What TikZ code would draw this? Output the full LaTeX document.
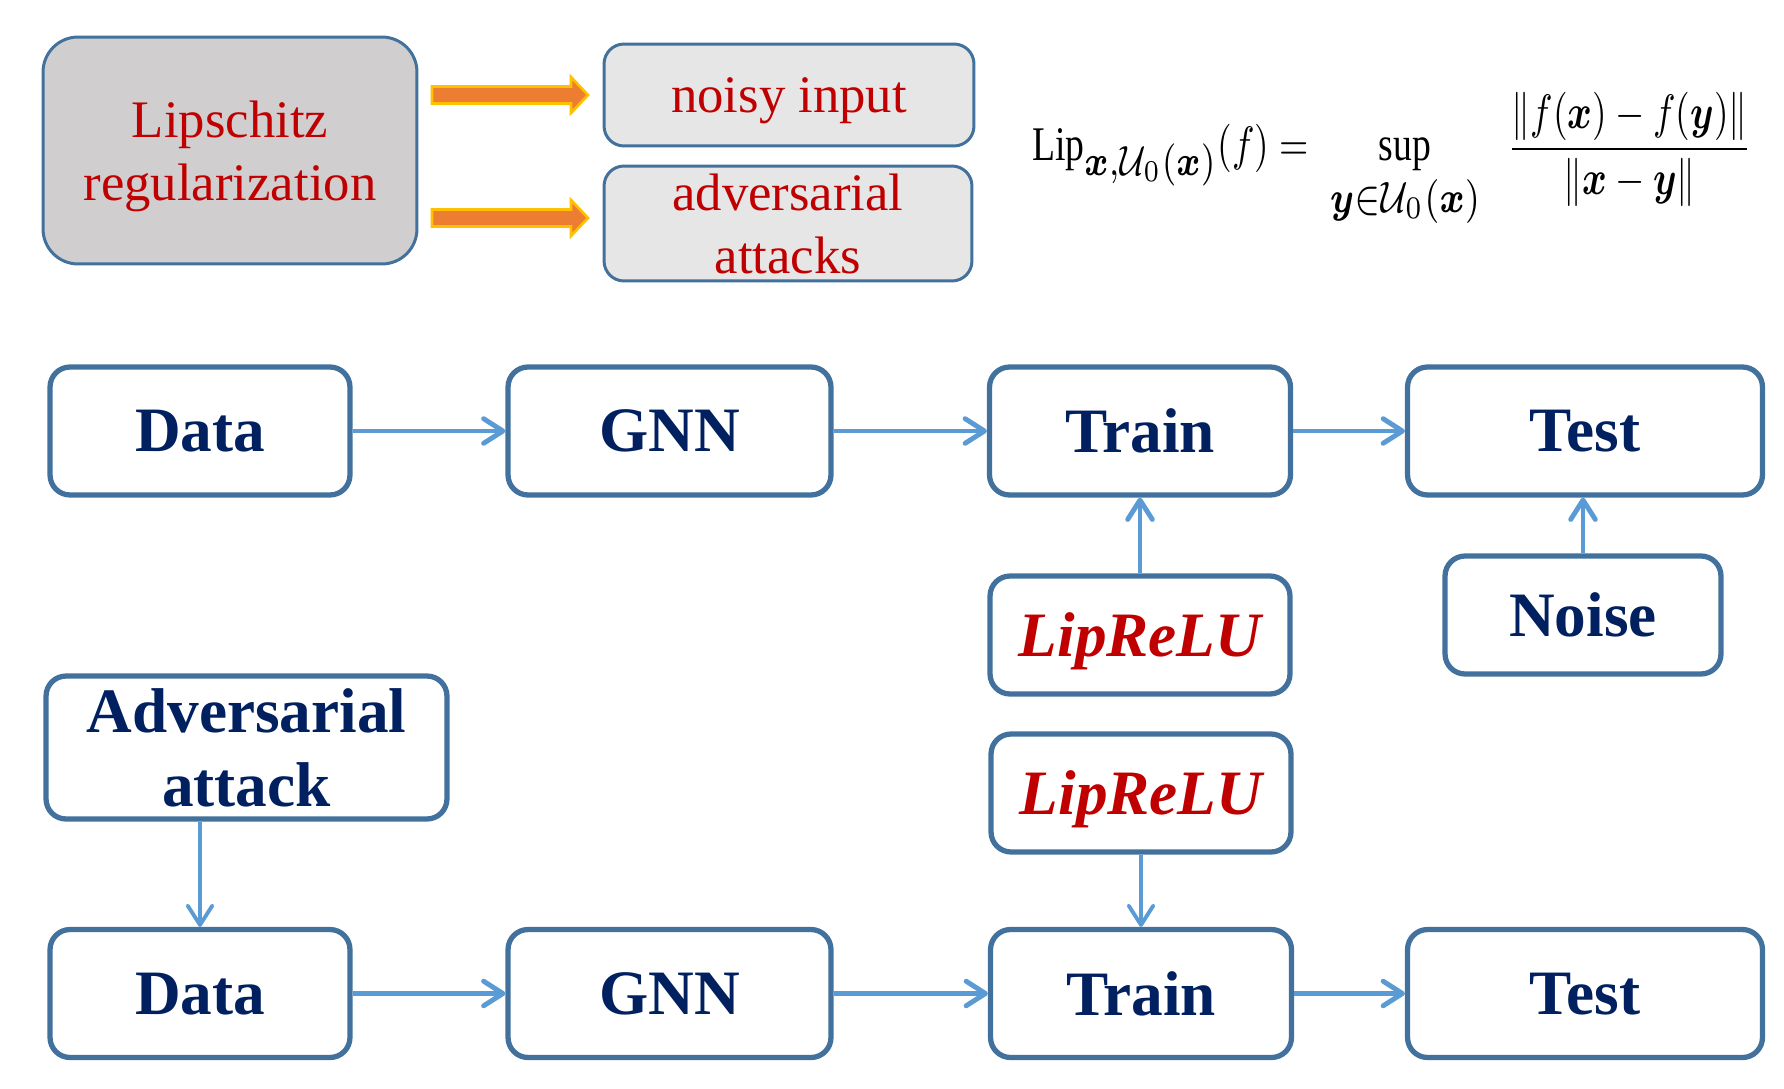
\documentclass[tikz,border=0pt]{standalone}
\usepackage{amsmath,bm,graphicx}
\usepackage{fontspec}
\setmainfont{Liberation Serif}
\usetikzlibrary{arrows.meta,shapes}

\definecolor{boxline}{HTML}{41719C}
\definecolor{navytext}{HTML}{002060}
\definecolor{redtext}{HTML}{C00000}
\definecolor{flowline}{HTML}{5B9BD5}
\definecolor{greyfill}{HTML}{D0CECE}
\definecolor{lightfill}{HTML}{E7E6E6}
\definecolor{orangebar}{HTML}{ED7D31}
\definecolor{goldline}{HTML}{FFC000}

\begin{document}
\begin{tikzpicture}[x=0.02cm,y=-0.02cm,->,>={Straight Barb[length=11pt,width=14pt,round]},
                flowbox/.style={shape=rectangle,rounded corners=0.4cm,draw=boxline,line width=3pt,fill=white,text=navytext,
                    font=\fontsize{36}{42}\selectfont\bfseries,text depth=0pt,inner sep=0pt,align=center,minimum height=2.56cm},
                idea/.style={shape=rectangle,rounded corners=0.4cm,draw=boxline,line width=1.7pt,fill=lightfill,text=redtext,
                    font=\fontsize{30}{36}\selectfont,text depth=0pt,inner sep=0pt,align=center},
                flow/.style={draw=flowline,line width=2.8pt},
                thinflow/.style={draw=flowline,line width=2.2pt},
                blockarrow/.style={-,fill=orangebar,draw=goldline,line width=1.5pt}]
                \useasboundingbox (0, 0) rectangle (1784, 1088);

                \node[idea,fill=greyfill,rounded corners=0.7cm,minimum width=7.48cm,minimum height=4.54cm,
                    font=\fontsize{30}{35.7}\selectfont](lipreg)at(230, 150.5){Lipschitz\\regularization};
                \node[idea,minimum width=7.4cm,minimum height=2.04cm](noisy)at(789, 95){noisy input};
                \node[idea,minimum width=7.36cm,minimum height=2.3cm](advin)at(788, 223.5){adversarial\\attacks};
                \coordinate (arr1) at (432, 95);
                \coordinate (arr2) at (432, 218);
                \draw[blockarrow] (arr1) ++(0, -8.5) -- ++(139, 0) -- ++(0, -9.5) -- ++(17, 18) -- ++(-17, 18) -- ++(0, -9.5) -- ++(-139, 0) -- cycle;
                \draw[blockarrow] (arr2) ++(0, -8.5) -- ++(139, 0) -- ++(0, -9.5) -- ++(17, 18) -- ++(-17, 18) -- ++(0, -9.5) -- ++(-139, 0) -- cycle;
                \node[inner sep=0pt](lipdef)at(1392, 160){\resizebox*{14.4cm}{2.72cm}{$\displaystyle
                    \mathrm{Lip}_{\scalebox{1.25}{$\scriptstyle\bm{x},\mathcal{U}_0(\bm{x})$}}(f)=\;
                    \sup_{\scalebox{1.3}{$\scriptstyle\bm{y}\in\mathcal{U}_0(\bm{x})$}}\;\;
                    \frac{\|f(\bm{x})\mathbin{-}f(\bm{y})\|}{\|\bm{x}-\bm{y}\|}$}};

                \node[flowbox,minimum width=6.0cm](data1)at(200, 431){Data};
                \node[flowbox,minimum width=6.46cm](gnn1)at(669.5, 431){GNN};
                \node[flowbox,minimum width=6.02cm](train1)at(1140, 431){Train};
                \node[flowbox,minimum width=7.1cm](test1)at(1585, 431){Test};
                \node[flowbox,minimum width=6.0cm,minimum height=2.36cm,text=redtext,font=\fontsize{36}{42}\selectfont\bfseries\itshape](lip1)at(1140, 635){LipReLU};
                \node[flowbox,minimum width=5.52cm,minimum height=2.36cm](noise)at(1583, 615){Noise};
                \path[] (data1) edge[flow] (gnn1)
                (gnn1) edge[flow] (train1)
                (train1) edge[flow] (test1)
                (lip1) edge[flow] (train1)
                (noise) edge[flow] (noise |- test1.south);

                \node[flowbox,minimum width=8.02cm,minimum height=2.86cm](adv)at(246.5, 747.5){Adversarial\\attack};
                \node[flowbox,minimum width=6.0cm,minimum height=2.36cm,text=redtext,font=\fontsize{36}{42}\selectfont\bfseries\itshape](lip2)at(1141, 793){LipReLU};
                \node[flowbox,minimum width=6.0cm](data2)at(200, 993.5){Data};
                \node[flowbox,minimum width=6.46cm](gnn2)at(669.5, 993.5){GNN};
                \node[flowbox,minimum width=6.02cm](train2)at(1141, 993.5){Train};
                \node[flowbox,minimum width=7.1cm](test2)at(1585, 993.5){Test};
                \path[] (data2) edge[flow] (gnn2)
                (gnn2) edge[flow] (train2)
                (train2) edge[flow] (test2)
                (lip2) edge[thinflow] (train2)
                (adv.south -| data2.north) edge[thinflow] (data2.north);
\end{tikzpicture}
\end{document}
